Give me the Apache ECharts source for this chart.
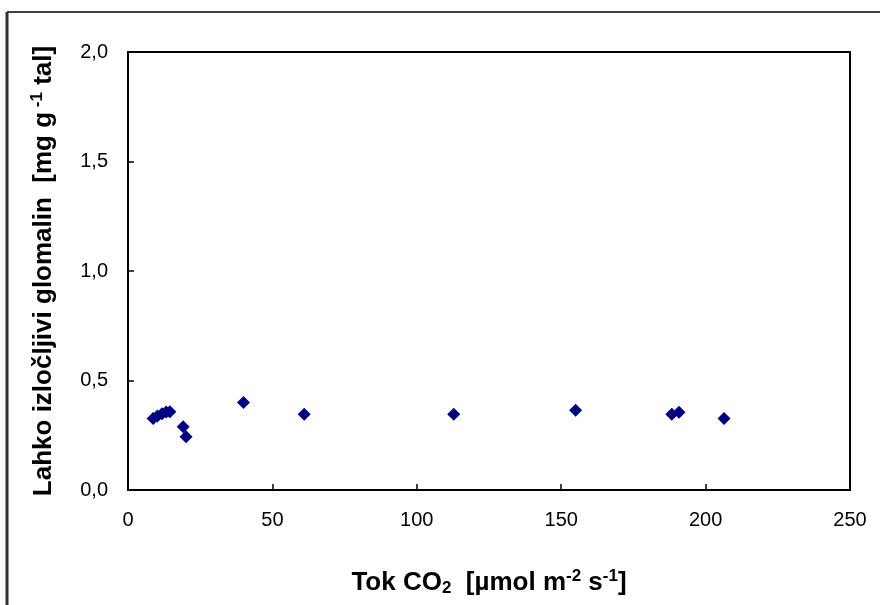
<!DOCTYPE html>
<html>
<head>
<meta charset="utf-8">
<script src="https://cdn.jsdelivr.net/npm/echarts@6/dist/echarts.min.js"></script>
<style>
  html, body { margin: 0; padding: 0; background: #fff; }
  #chart { width: 880px; height: 605px; }
</style>
</head>
<body>
<div id="chart"></div>
<script>
// CO2 flux [µmol m-2 s-1] against easily extractable glomalin [mg g-1 soil]
const co2Flux = [8.7, 10.2, 11.8, 13.2, 14.5, 19.1, 20.1, 40.0, 61.0, 112.8, 155.0, 188.3, 190.8, 206.4];
const glomalin = [0.327, 0.338, 0.348, 0.356, 0.357, 0.289, 0.243, 0.400, 0.346, 0.346, 0.364, 0.346, 0.355, 0.327];

const xTicks = { min: 0, max: 250, interval: 50 };
const yTicks = { min: 0, max: 2, interval: 0.5 };

const points = co2Flux.map((x, i) => [x, glomalin[i]]);

const fontFamily = '"Liberation Sans", Arial, sans-serif';
const titleRich = {
  t: { fontSize: 26, fontWeight: 'bold', color: '#000', fontFamily },
  sup: { fontSize: 17, fontWeight: 'bold', color: '#000', fontFamily, verticalAlign: 'top', padding: [0, 0, 12, 0] },
  sub: { fontSize: 17, fontWeight: 'bold', color: '#000', fontFamily, verticalAlign: 'bottom', padding: [10, 0, 0, 0] }
};
const titleStyle = { fontSize: 26, fontWeight: 'bold', color: '#000', fontFamily, rich: titleRich };

const chart = echarts.init(document.getElementById('chart'), null, { renderer: 'canvas' });
chart.setOption({
  backgroundColor: '#fff',
  animation: false,
  grid: {
    left: 128, top: 52, right: 30, bottom: 115,
    show: true, borderColor: '#000', borderWidth: 2, backgroundColor: 'transparent'
  },
  xAxis: {
    type: 'value',
    min: xTicks.min, max: xTicks.max, interval: xTicks.interval,
    axisLine: { show: true, lineStyle: { color: '#000', width: 2 } },
    axisTick: { show: true, inside: true, length: 6, lineStyle: { color: '#000', width: 1.5 } },
    splitLine: { show: false },
    axisLabel: { color: '#000', fontSize: 20, fontFamily, margin: 20 },
    name: '{t|Tok CO}{sub|2}{t|  [µmol m}{sup|-2}{t| s}{sup|-1}{t|]}',
    nameLocation: 'middle',
    nameGap: 78,
    nameTextStyle: titleStyle
  },
  yAxis: {
    type: 'value',
    min: yTicks.min, max: yTicks.max, interval: yTicks.interval,
    axisLine: { show: true, lineStyle: { color: '#000', width: 2 } },
    axisTick: { show: true, inside: true, length: 6, lineStyle: { color: '#000', width: 1.5 } },
    splitLine: { show: false },
    axisLabel: {
      color: '#000', fontSize: 20, fontFamily, margin: 20,
      formatter: v => v.toFixed(1).replace('.', ',')
    },
    name: '{t|Lahko izločljivi glomalin  [mg g}{sup| -1}{t| tal]}',
    nameLocation: 'middle',
    nameRotate: 90,
    nameGap: 70,
    nameTextStyle: titleStyle
  },
  graphic: [
    { type: 'line', shape: { x1: 7, y1: 12, x2: 880, y2: 12 }, style: { stroke: '#000', lineWidth: 1.5 } },
    { type: 'line', shape: { x1: 7, y1: 12, x2: 7, y2: 605 }, style: { stroke: '#333', lineWidth: 3 } }
  ],
  series: [{
    type: 'scatter',
    data: points,
    symbol: 'diamond',
    symbolSize: 13,
    itemStyle: { color: '#000080', opacity: 1 }
  }]
});
</script>
</body>
</html>
